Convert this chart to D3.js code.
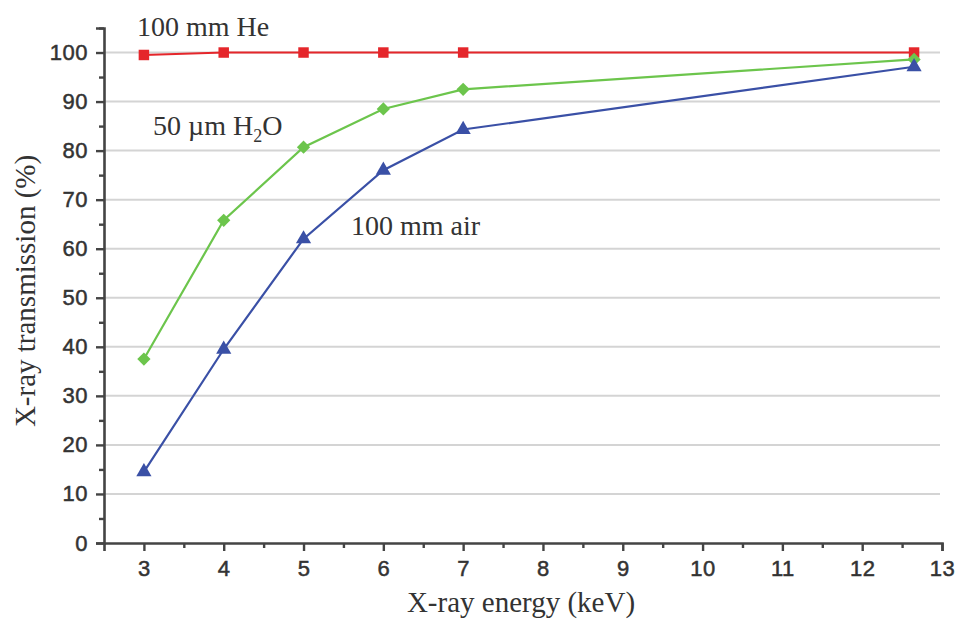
<!DOCTYPE html>
<html>
<head>
<meta charset="utf-8">
<script src="https://cdn.jsdelivr.net/npm/d3@7"></script>
<style>
  html, body { margin: 0; padding: 0; background: #fff; }
  svg { display: block; }
</style>
</head>
<body>
<svg id="chart" width="957" height="623"></svg>
<script>
// Transmission data (%) at each X-ray energy (keV)
const energies = [3, 4, 5, 6, 7, 12.65];
const heliumT = [99.5, 100, 100, 100, 100, 100];
const waterT = [37.5, 65.8, 80.7, 88.5, 92.5, 98.6];
const airT = [14.5, 39.5, 62, 76, 84.3, 97.1];

const xTicks = [3, 4, 5, 6, 7, 8, 9, 10, 11, 12, 13];
const yTicks = [0, 10, 20, 30, 40, 50, 60, 70, 80, 90, 100];

const svg = d3.select("#chart");
const x = d3.scaleLinear().domain([2.5, 13]).range([104, 942]);
const y = d3.scaleLinear().domain([0, 105]).range([543, 28]);

const axisColor = "#444";
const tickFont = "'Liberation Sans', Arial, sans-serif";
const serif = "'Liberation Serif', 'Times New Roman', serif";

// horizontal grid
svg.append("g").selectAll("line").data(yTicks.filter(d => d > 0)).join("line")
  .attr("x1", x(2.5)).attr("x2", 940)
  .attr("y1", d => y(d)).attr("y2", d => y(d))
  .attr("stroke", "#d4d4d4").attr("stroke-width", 2);

// minor ticks
const xMinor = svg.append("g").attr("transform", `translate(0,${y(0)})`)
  .call(d3.axisBottom(x).tickValues(d3.range(3.5, 13, 1)).tickSize(5).tickFormat(""));
xMinor.select(".domain").remove();
const yMinor = svg.append("g").attr("transform", `translate(${x(2.5)},0)`)
  .call(d3.axisLeft(y).tickValues(d3.range(5, 106, 10)).tickSize(5).tickFormat(""));
yMinor.select(".domain").remove();

// major axes
const xAxis = svg.append("g").attr("transform", `translate(0,${y(0)})`)
  .call(d3.axisBottom(x).tickValues(xTicks).tickSize(8).tickPadding(9).tickFormat(d3.format("d")));
const yAxis = svg.append("g").attr("transform", `translate(${x(2.5)},0)`)
  .call(d3.axisLeft(y).tickValues(yTicks).tickSize(8).tickPadding(8).tickFormat(d3.format("d")));

svg.selectAll(".domain").attr("stroke", axisColor).attr("stroke-width", 2.6);
svg.selectAll(".tick line").attr("stroke", axisColor).attr("stroke-width", 2.4);
svg.selectAll(".tick text")
  .attr("fill", "#333")
  .attr("stroke", "#333").attr("stroke-width", 0.5)
  .style("font-family", tickFont)
  .style("font-size", "22px")
  .style("letter-spacing", "0.5px");

// series lines and markers
const line = d3.line().x(d => x(d[0])).y(d => y(d[1]));
const series = [
  { vals: heliumT, color: "#e5262b", shape: d3.symbolSquare, size: 110, rot: 0 },
  { vals: waterT, color: "#6cc54c", shape: d3.symbolSquare, size: 88, rot: 45 },
  { vals: airT, color: "#3a50a6", shape: d3.symbolTriangle, size: 100, rot: 0 }
];
series.forEach(s => {
  const pts = energies.map((e, i) => [e, s.vals[i]]);
  svg.append("path").datum(pts)
    .attr("d", line).attr("fill", "none")
    .attr("stroke", s.color).attr("stroke-width", 2.2);
  svg.append("g").selectAll("path").data(pts).join("path")
    .attr("transform", d => `translate(${x(d[0])},${y(d[1])}) rotate(${s.rot})`)
    .attr("d", d3.symbol().type(s.shape).size(s.size))
    .attr("fill", s.color);
});

// series labels
const lab = (tx, ty, text) => svg.append("text")
  .attr("x", tx).attr("y", ty)
  .style("font-family", serif).style("font-size", "28px").attr("fill", "#333")
  .text(text);
lab(137, 36, "100 mm He");
const h2o = lab(153, 135, "50 µm H");
h2o.append("tspan").attr("dy", 7).style("font-size", "18px").text("2");
h2o.append("tspan").attr("dy", -7).text("O");
lab(351, 235, "100 mm air");

// axis titles
svg.append("text")
  .attr("x", 521).attr("y", 612).attr("text-anchor", "middle")
  .style("font-family", serif).style("font-size", "29px").attr("fill", "#333")
  .text("X-ray energy (keV)");
svg.append("text")
  .attr("transform", "translate(35,291) rotate(-90)").attr("text-anchor", "middle")
  .style("font-family", serif).style("font-size", "29px").attr("fill", "#333")
  .text("X-ray transmission (%)");
</script>
</body>
</html>
